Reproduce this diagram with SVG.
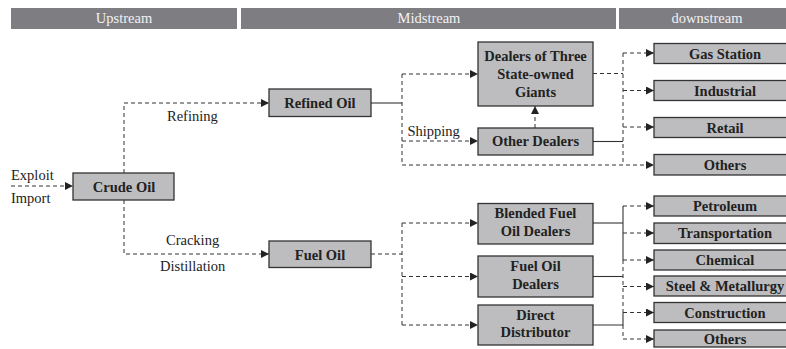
<svg xmlns="http://www.w3.org/2000/svg" width="786" height="349" viewBox="0 0 786 349" font-family="Liberation Serif, DejaVu Serif, serif" font-size="14.5">
<defs>
<marker id="arr" markerWidth="8" markerHeight="8" refX="8" refY="4" orient="auto" markerUnits="userSpaceOnUse">
<path d="M0,0 L8,4 L0,8 z" fill="#222"/>
</marker>
</defs>
<style>
.hdr{fill:#7e7d82}
.htx{fill:#f2f2f2;text-anchor:middle}
.box{fill:#bdbdbf;stroke:#333;stroke-width:1.3}
.btx{font-weight:bold;fill:#222;text-anchor:middle}
.lbl{fill:#222}
.d{fill:none;stroke:#333;stroke-width:1;stroke-dasharray:4 3}
.s{fill:none;stroke:#333;stroke-width:1.1}
.a{marker-end:url(#arr)}
</style>
<g id="headers">
<rect class="hdr" x="11" y="8" width="226" height="21"/>
<text class="htx" x="124" y="23">Upstream</text>
<rect class="hdr" x="241" y="8" width="375" height="21"/>
<text class="htx" x="429" y="23">Midstream</text>
<rect class="hdr" x="619" y="8" width="177" height="21"/>
<text class="htx" x="707" y="23">downstream</text>
</g>
<g id="connectors">
<path class="d a" d="M11,186 H73"/>
<path class="d a" d="M124,173 V103 H269"/>
<path class="d a" d="M124,200 V254 H269"/>
<path class="s" d="M371,103 H402"/>
<path class="d" d="M402,74 V165"/>
<path class="d a" d="M402,74 H478"/>
<path class="d a" d="M402,141 H478"/>
<path class="d a" d="M402,165 H654"/>
<path class="d a" d="M535,128 V106"/>
<path class="d" d="M593,73.5 H623"/>
<path class="s" d="M593,141.5 H623"/>
<path class="d" d="M623,53 V165"/>
<path class="d a" d="M623,53 H654"/>
<path class="d a" d="M623,90.5 H654"/>
<path class="d a" d="M623,127 H654"/>
<path class="d" d="M371,254 H402"/>
<path class="d" d="M402,223 V325"/>
<path class="d a" d="M402,223 H478"/>
<path class="d a" d="M402,276.5 H478"/>
<path class="d a" d="M402,325 H478"/>
<path class="s" d="M593,223 H623"/>
<path class="s" d="M623,206 V260"/>
<path class="s" d="M593,276.5 H623"/>
<path class="s" d="M593,325 H623 V312.5"/>
<path class="d" d="M623,260 V312.5"/>
<path class="d" d="M623,325 V339"/>
<path class="d a" d="M623,206 H654"/>
<path class="d a" d="M623,233 H654"/>
<path class="d a" d="M623,260 H654"/>
<path class="d a" d="M623,286.5 H654"/>
<path class="d a" d="M623,312.5 H654"/>
<path class="d a" d="M623,339 H654"/>
</g>
<g id="labels">
<text class="lbl" x="11" y="179.5">Exploit</text>
<text class="lbl" x="11" y="202.5">Import</text>
<text class="lbl" x="167" y="121">Refining</text>
<text class="lbl" x="166" y="245">Cracking</text>
<text class="lbl" x="160" y="271">Distillation</text>
<text class="lbl" x="407.5" y="136">Shipping</text>
</g>
<g id="crude-oil"><rect class="box" x="73" y="173" width="101" height="27"/><text class="btx" x="124" y="191.5">Crude Oil</text></g>
<g id="refined-oil"><rect class="box" x="269" y="89" width="102" height="27.5"/><text class="btx" x="320" y="108">Refined Oil</text></g>
<g id="fuel-oil"><rect class="box" x="269" y="241" width="102" height="26.5"/><text class="btx" x="320" y="259.5">Fuel Oil</text></g>
<g id="dealers-three"><rect class="box" x="478" y="42" width="115" height="64"/><text class="btx" x="535.5" y="61">Dealers of Three</text><text class="btx" x="535.5" y="79">State-owned</text><text class="btx" x="535.5" y="97">Giants</text></g>
<g id="other-dealers"><rect class="box" x="478" y="128" width="115" height="27"/><text class="btx" x="535.5" y="146">Other Dealers</text></g>
<g id="blended"><rect class="box" x="478" y="203.5" width="115" height="40.5"/><text class="btx" x="535.5" y="218">Blended Fuel</text><text class="btx" x="535.5" y="236">Oil Dealers</text></g>
<g id="fuel-oil-dealers"><rect class="box" x="478" y="256" width="115" height="41"/><text class="btx" x="535.5" y="270.5">Fuel Oil</text><text class="btx" x="535.5" y="288.5">Dealers</text></g>
<g id="direct-distributor"><rect class="box" x="478" y="305" width="115" height="40"/><text class="btx" x="535.5" y="319.5">Direct</text><text class="btx" x="535.5" y="337">Distributor</text></g>
<g id="gas-station"><rect class="box" x="654" y="43.5" width="142" height="20"/><text class="btx" x="725" y="58.5">Gas Station</text></g>
<g id="industrial"><rect class="box" x="654" y="80.5" width="142" height="20"/><text class="btx" x="725" y="95.5">Industrial</text></g>
<g id="retail"><rect class="box" x="654" y="117.5" width="142" height="20"/><text class="btx" x="725" y="132.5">Retail</text></g>
<g id="others-1"><rect class="box" x="654" y="154.5" width="142" height="20.5"/><text class="btx" x="725" y="170">Others</text></g>
<g id="petroleum"><rect class="box" x="654" y="196" width="142" height="20"/><text class="btx" x="725" y="211">Petroleum</text></g>
<g id="transportation"><rect class="box" x="654" y="223" width="142" height="20.5"/><text class="btx" x="725" y="238">Transportation</text></g>
<g id="chemical"><rect class="box" x="654" y="250" width="142" height="20"/><text class="btx" x="725" y="265">Chemical</text></g>
<g id="steel"><rect class="box" x="654" y="276" width="142" height="20"/><text class="btx" x="725" y="291">Steel &amp; Metallurgy</text></g>
<g id="construction"><rect class="box" x="654" y="302.5" width="142" height="20"/><text class="btx" x="725" y="317.5">Construction</text></g>
<g id="others-2"><rect class="box" x="654" y="330" width="142" height="17"/><text class="btx" x="725" y="344">Others</text></g>
</svg>
